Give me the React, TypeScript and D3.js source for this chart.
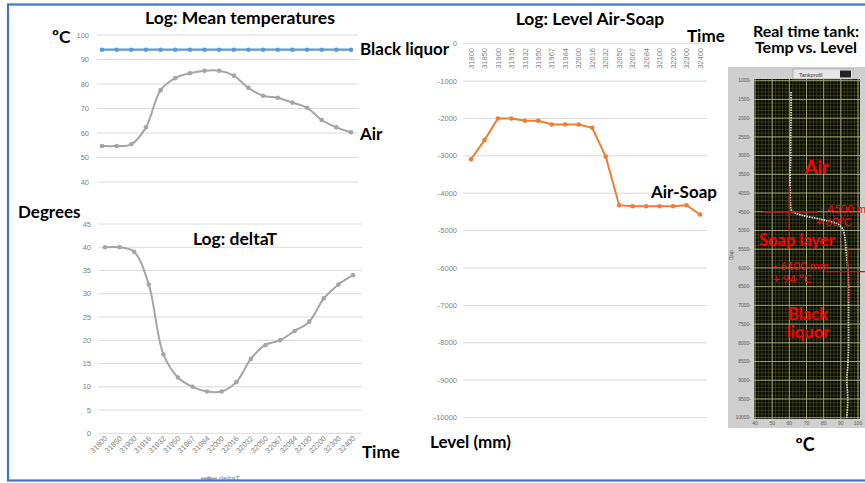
import React, { useRef, useEffect } from "react";
import * as d3 from "d3";

// time stamps shared by all three logs
const timeLabels = [
  "31800", "31850", "31900", "31916", "31932", "31950", "31967", "31984", "32000",
  "32016", "32032", "32050", "32067", "32084", "32100", "32200", "32300", "32400",
];

const liquorTemp = [94, 94, 94, 94, 94, 94, 94, 94, 94, 94, 94, 94, 94, 94, 94, 94, 94, 94];
const airTemp = [54.7, 54.7, 55.4, 62.3, 77.5, 82.4, 84.4, 85.4, 85.4, 83.4, 78.4, 75.2, 74.4, 72.4, 70.3, 65.3, 62.3, 60.3];
const deltaT = [40, 40, 39, 32, 17, 12, 10, 9, 9, 11, 16, 19, 20, 22, 24, 29, 32, 34];
const airSoapLevel = [-3090, -2580, -2000, -2000, -2060, -2060, -2160, -2160, -2160, -2250, -3020, -4320, -4350, -4350, -4350, -4350, -4320, -4570];

// tank profile (screenshot panel)
const tankDepth = [1300, 1500, 2000, 2500, 3000, 3500, 4000, 4400, 4500, 4600, 4700, 4800, 4900, 5000, 5250, 5500, 6000, 6500, 7000, 7500, 8000, 8500, 9000, 9500, 10000];
const tankTemp = [61, 61, 61, 60.8, 60.8, 60.5, 60.5, 60.8, 62, 68, 78, 87, 90, 91.5, 92.5, 93, 94, 94.5, 94.5, 94.5, 94.5, 94.2, 93.5, 94, 93.5];

const tempTicks = [40, 50, 60, 70, 80, 90, 100];
const deltaTicks = [0, 5, 10, 15, 20, 25, 30, 35, 40, 45];
const levelTicks = [0, -1000, -2000, -3000, -4000, -5000, -6000, -7000, -8000, -9000, -10000];
const tankDepthTicks = [1000, 1500, 2000, 2500, 3000, 3500, 4000, 4500, 5000, 5500, 6000, 6500, 7000, 7500, 8000, 8500, 9000, 9500, 10000];
const tankTempTicks = [40, 50, 60, 70, 80, 90, 100];

const App = () => {
  const svgRef = useRef<SVGSVGElement>(null);

  useEffect(() => {
    const width = 865;
    const height = 483;
    const bold = "Lato, 'Open Sans', sans-serif";
    const small = "'Liberation Sans', Arial, sans-serif";
    const grey = "#A5A5A5";

    d3.select(svgRef.current).selectAll("*").remove();
    const svg = d3
      .select(svgRef.current)
      .attr("width", width)
      .attr("height", height)
      .attr("style", "position:absolute;left:0;top:0;background:#fff");

    const text = (t, x, y, size, anchor = "start", fill = "#000", weight = "bold", family = bold) =>
      svg
        .append("text")
        .attr("x", x)
        .attr("y", y)
        .attr("dy", "0.35em")
        .attr("font-size", size)
        .attr("font-weight", weight)
        .attr("font-family", family)
        .attr("text-anchor", anchor)
        .attr("fill", fill)
        .text(t);

    const markers = (g, vals, x, y, color, r = 2.3) =>
      g
        .selectAll(null)
        .data(vals)
        .join("circle")
        .attr("cx", (d, i) => x(timeLabels[i]))
        .attr("cy", (d) => y(d))
        .attr("r", r)
        .attr("fill", color);

    const yGrid = (g, ticks, y, x0, x1, lx) => {
      g.selectAll(null)
        .data(ticks)
        .join("line")
        .attr("x1", x0)
        .attr("x2", x1)
        .attr("y1", (d) => y(d))
        .attr("y2", (d) => y(d))
        .attr("stroke", "#D9D9D9")
        .attr("stroke-width", 1);
      g.selectAll(null)
        .data(ticks)
        .join("text")
        .attr("x", lx)
        .attr("y", (d) => y(d))
        .attr("dy", "0.35em")
        .attr("text-anchor", "end")
        .attr("font-size", 7.5)
        .attr("font-family", small)
        .attr("fill", "#7F7F7F")
        .text((d) => d);
    };

    // ---------- Log: Mean temperatures ----------
    const gA = svg.append("g");
    const xA = d3.scalePoint().domain(timeLabels).range([102, 351]);
    const yA = d3.scaleLinear().domain([40, 100]).range([182, 35]);
    yGrid(gA, tempTicks, yA, 97, 358, 89);
    const lineA = (vals) =>
      d3
        .line()
        .x((d, i) => xA(timeLabels[i]))
        .y((d) => yA(d))
        .curve(d3.curveCatmullRom.alpha(0.5))(vals);
    gA.append("path").attr("d", lineA(liquorTemp)).attr("fill", "none").attr("stroke", "#5B9BD5").attr("stroke-width", 2.2);
    markers(gA, liquorTemp, xA, yA, "#5B9BD5");
    gA.append("path").attr("d", lineA(airTemp)).attr("fill", "none").attr("stroke", grey).attr("stroke-width", 2);
    markers(gA, airTemp, xA, yA, grey);

    text("Log: Mean temperatures", 240, 18, 17.5, "middle");
    text("ºC", 52, 37, 17.5);
    text("Black liquor", 360, 49, 17);
    text("Air", 360, 134, 17);
    text("Degrees", 18, 212, 17);

    // ---------- Log: deltaT ----------
    const gB = svg.append("g");
    const xB = d3.scalePoint().domain(timeLabels).range([105, 353]);
    const yB = d3.scaleLinear().domain([0, 45]).range([433.3, 224]);
    yGrid(gB, deltaTicks, yB, 99, 362, 91);
    gB.append("path")
      .attr(
        "d",
        d3
          .line()
          .x((d, i) => xB(timeLabels[i]))
          .y((d) => yB(d))
          .curve(d3.curveCatmullRom.alpha(0.5))(deltaT)
      )
      .attr("fill", "none")
      .attr("stroke", grey)
      .attr("stroke-width", 2);
    markers(gB, deltaT, xB, yB, grey);
    gB.selectAll(null)
      .data(timeLabels)
      .join("text")
      .attr("transform", (d) => `translate(${xB(d) + 3},${439}) rotate(-45)`)
      .attr("text-anchor", "end")
      .attr("font-size", 7.5)
      .attr("font-family", small)
      .attr("fill", "#7F7F7F")
      .text((d) => d);
    text("Log: deltaT", 235, 239, 17.5, "middle");
    text("Time", 362, 452, 17);
    // legend
    gB.append("line").attr("x1", 201).attr("x2", 217).attr("y1", 478.5).attr("y2", 478.5).attr("stroke", grey).attr("stroke-width", 2);
    gB.append("circle").attr("cx", 209).attr("cy", 478.5).attr("r", 2.3).attr("fill", grey);
    gB.append("text").attr("x", 219).attr("y", 481).attr("font-size", 7.5).attr("font-family", small).attr("fill", "#7F7F7F").text("deltaT");

    // ---------- Log: Level Air-Soap ----------
    const gC = svg.append("g");
    const xC = d3.scalePoint().domain(timeLabels).range([471, 700]);
    const yC = d3.scaleLinear().domain([-10000, 0]).range([417.5, 43.7]);
    yGrid(gC, levelTicks, yC, 463, 707, 457);
    gC.append("path")
      .attr(
        "d",
        d3
          .line()
          .x((d, i) => xC(timeLabels[i]))
          .y((d) => yC(d))(airSoapLevel)
      )
      .attr("fill", "none")
      .attr("stroke", "#ED7D31")
      .attr("stroke-width", 2);
    markers(gC, airSoapLevel, xC, yC, "#ED7D31");
    gC.selectAll(null)
      .data(timeLabels)
      .join("text")
      .attr("transform", (d) => `translate(${xC(d)},${48}) rotate(-90)`)
      .attr("dy", "0.35em")
      .attr("text-anchor", "end")
      .attr("font-size", 7.5)
      .attr("font-family", small)
      .attr("fill", "#7F7F7F")
      .text((d) => d);
    text("Log: Level Air-Soap", 590, 19, 17.5, "middle");
    text("Time", 687, 36, 17);
    text("Air-Soap", 651, 192, 17);
    text("Level (mm)", 430, 442, 17);

    // ---------- Real time tank panel ----------
    const gD = svg.append("g");
    const xD = d3.scaleLinear().domain([40, 100]).range([755, 858]);
    const yD = d3.scaleLinear().domain([1000, 10000]).range([80.7, 417.7]);
    gD.append("rect").attr("x", 728).attr("y", 67).attr("width", 140).attr("height", 361).attr("fill", "#CFCFCF");
    gD.append("rect").attr("x", 754).attr("y", 79).attr("width", 106).attr("height", 340).attr("fill", "#0B0C06");
    // minor grid
    gD.selectAll(null)
      .data(d3.range(40, 101, 2))
      .join("line")
      .attr("x1", (d) => xD(d))
      .attr("x2", (d) => xD(d))
      .attr("y1", 79)
      .attr("y2", 419)
      .attr("stroke", "#4B5226")
      .attr("stroke-width", 0.6);
    gD.selectAll(null)
      .data(d3.range(1000, 10001, 100))
      .join("line")
      .attr("x1", 754)
      .attr("x2", 860)
      .attr("y1", (d) => yD(d))
      .attr("y2", (d) => yD(d))
      .attr("stroke", "#4B5226")
      .attr("stroke-width", 0.6);
    // major grid
    gD.selectAll(null)
      .data(tankTempTicks)
      .join("line")
      .attr("x1", (d) => xD(d))
      .attr("x2", (d) => xD(d))
      .attr("y1", 79)
      .attr("y2", 419)
      .attr("stroke", "#B9B98C")
      .attr("stroke-width", 0.8);
    gD.selectAll(null)
      .data(tankDepthTicks)
      .join("line")
      .attr("x1", 754)
      .attr("x2", 860)
      .attr("y1", (d) => yD(d))
      .attr("y2", (d) => yD(d))
      .attr("stroke", "#B9B98C")
      .attr("stroke-width", 0.8);
    gD.selectAll(null)
      .data(tankDepthTicks)
      .join("text")
      .attr("x", 751)
      .attr("y", (d) => yD(d))
      .attr("dy", "0.35em")
      .attr("text-anchor", "end")
      .attr("font-size", 5)
      .attr("font-family", small)
      .attr("fill", "#555")
      .text((d) => d + "-");
    gD.selectAll(null)
      .data(tankTempTicks)
      .join("text")
      .attr("x", (d) => xD(d))
      .attr("y", 425)
      .attr("text-anchor", "middle")
      .attr("font-size", 5)
      .attr("font-family", small)
      .attr("fill", "#555")
      .text((d) => d);
    gD.append("text")
      .attr("transform", "translate(733,255) rotate(-90)")
      .attr("text-anchor", "middle")
      .attr("font-size", 5)
      .attr("font-family", small)
      .attr("fill", "#555")
      .text("Djup");
    // tab
    gD.append("rect").attr("x", 793).attr("y", 69).attr("width", 60).attr("height", 10).attr("fill", "#E6E6E6").attr("stroke", "#9A9A9A").attr("stroke-width", 0.6);
    gD.append("text").attr("x", 799).attr("y", 76.5).attr("font-size", 5.5).attr("font-family", small).attr("fill", "#333").text("Tankprofil");
    gD.append("rect").attr("x", 840).attr("y", 70.5).attr("width", 11).attr("height", 7).attr("fill", "#222");
    // profile
    const tankLine = d3
      .line()
      .x((d, i) => xD(tankTemp[i]))
      .y((d) => yD(d))
      .curve(d3.curveMonotoneY);
    gD.append("path")
      .attr("d", tankLine(tankDepth))
      .attr("fill", "none")
      .attr("stroke", "#DCDCC4")
      .attr("stroke-width", 1.8)
      .attr("stroke-dasharray", "1.6 0.9");

    // red annotations
    const red = "#FF0000";
    const cross = (x, y, x0, x1, y0, y1) => {
      gD.append("line").attr("x1", x0).attr("x2", x1).attr("y1", y).attr("y2", y).attr("stroke", red).attr("stroke-width", 1.3);
      gD.append("line").attr("x1", x).attr("x2", x).attr("y1", y0).attr("y2", y1).attr("stroke", red).attr("stroke-width", 1.3);
    };
    cross(xD(60), yD(4500), 763, 817, 186, 248);
    cross(xD(94), yD(6100), 826, 870, 247, 302);
    text("Air", 817, 168, 18.5, "middle", red);
    text("- 4500 mm", 820, 208.5, 11.5, "start", red, "normal");
    text("+ 60°C", 816, 222, 11.5, "start", red, "normal");
    text("Soap layer", 797, 240, 16.5, "middle", red);
    text("- 6100 mm", 773, 265.5, 11.5, "start", red, "normal");
    text("+ 94 °C", 773, 278.5, 11.5, "start", red, "normal");
    text("Black", 808, 314.5, 16.5, "middle", red);
    text("liquor", 808, 332.5, 16.5, "middle", red);

    text("Real time tank:", 806, 31, 16, "middle");
    text("Temp vs. Level", 806, 47.5, 16, "middle");
    text("ºC", 805, 445, 18, "middle");

    // outer frame
    svg.append("rect")
      .attr("x", 8)
      .attr("y", 4.5)
      .attr("width", 870)
      .attr("height", 476)
      .attr("fill", "none")
      .attr("stroke", "#4472C4")
      .attr("stroke-width", 2.2);
  }, []);

  return <svg ref={svgRef}></svg>;
};

export default App;
